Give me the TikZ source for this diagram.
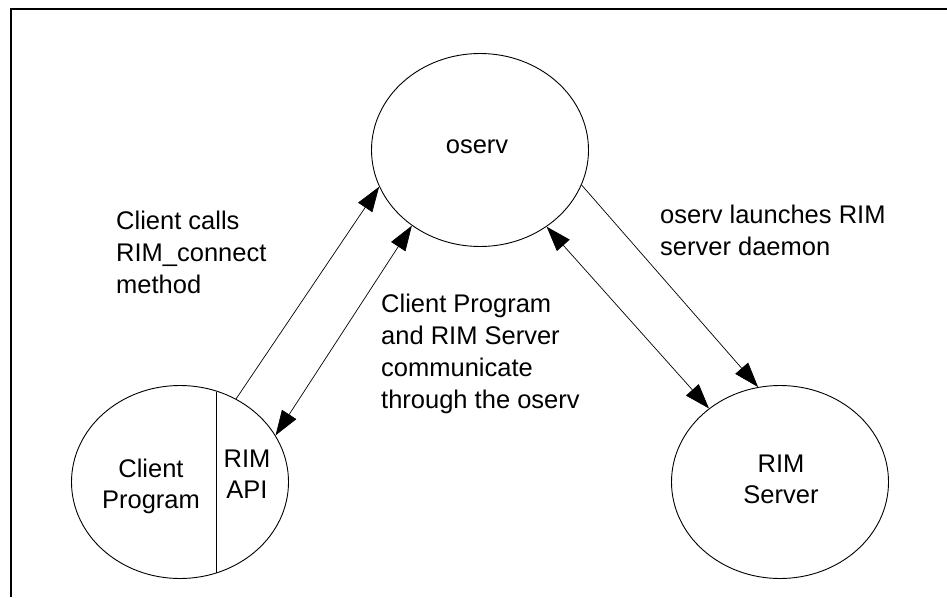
\documentclass[tikz,border=0pt]{standalone}
\usepackage{fontspec}
\setmainfont{Liberation Sans}
\usetikzlibrary{arrows.meta,shapes.geometric}
\begin{document}
\begin{tikzpicture}[x=1pt,y=-1pt,
  bubble/.style={draw,ellipse,line width=0.9pt,minimum width=217pt,minimum height=193pt,inner sep=0pt},
  txt/.style={font=\fontsize{25.5}{31}\selectfont,inner sep=0pt},
  wide/.style={font=\fontsize{25.5}{32}\selectfont},
  link/.style={line width=0.7pt},
  >={Triangle[length=25pt,width=17pt]}]
  \useasboundingbox (0,0) rectangle (947,597);
  % partial frame: top and left rules
  \coordinate (fTL) at (11,9);
  \coordinate (fTR) at (947,9);
  \coordinate (fBL) at (11,597);
  \draw[line width=1.4pt] (fTR) -- (fTL) -- (fBL);

  % the three processes
  \node[bubble] (oserv) at (480,150) {};
  \node[bubble] (client) at (180,482) {};
  \node[bubble] (server) at (780,482) {};
  % divider between the client program and its RIM API part
  \coordinate (divtop) at (216,391.5);
  \coordinate (divbot) at (216,572.5);
  \draw[line width=0.9pt] (divtop) -- (divbot);

  % names inside the bubbles (anchored on the baseline of the last line)
  \node[txt,anchor=base] (oservtxt) at (477,153) {oserv};
  \node[txt,anchor=base,align=center] (clienttxt) at (151,508) {Client\\Program};
  \node[txt,anchor=base,align=center] (apitxt) at (247,498) {RIM\\API};
  \node[txt,anchor=base,align=center] (servertxt) at (781,503) {RIM\\Server};

  % message labels
  \node[txt,wide,anchor=base west,align=left] (l1) at (116,293) {Client calls\\RIM\_connect\\method};
  \node[txt,font=\fontsize{25.5}{31.7}\selectfont,anchor=base west,align=left] (l2) at (381,408) {Client Program\\and RIM Server\\communicate\\through the oserv};
  \node[txt,wide,anchor=base west,align=left] (l3) at (660,255) {oserv launches RIM\\server daemon};

  % connectors
  \draw[link,->] (client.56) -- (oserv.200);
  \draw[link,<->] (client.26) -- (oserv.228);
  \draw[link,<->] (oserv.311) -- (server.134);
  \draw[link,->] (oserv.341) -- (server.103);
\end{tikzpicture}
\end{document}
